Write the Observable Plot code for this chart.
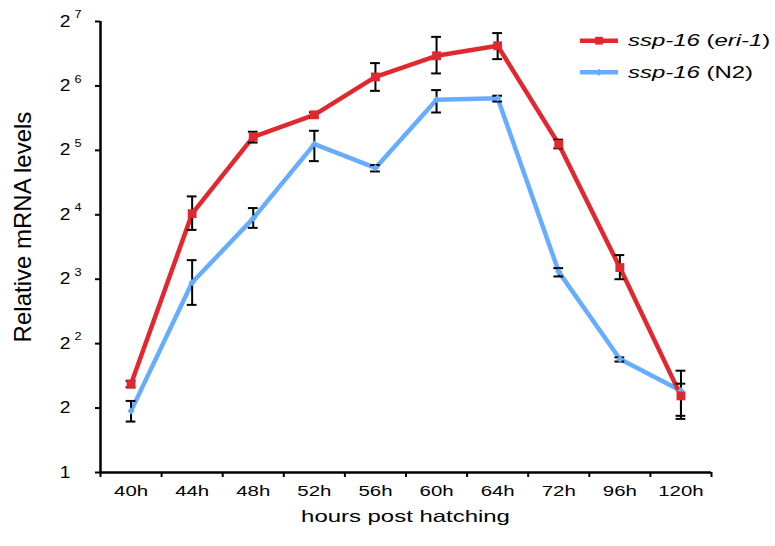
<!DOCTYPE html>
<html>
<head>
<meta charset="utf-8">
<script src="https://cdn.jsdelivr.net/npm/d3@7"></script>
<script src="https://cdn.jsdelivr.net/npm/@observablehq/plot@0.6"></script>
<style>
  body { margin: 0; background: #fff; }
  #chart svg { display: block; font-family: "Liberation Sans", Arial, sans-serif; }
</style>
</head>
<body>
<div id="chart"></div>
<script>
// ---- data ----
const categories = ["40h", "44h", "48h", "52h", "56h", "60h", "64h", "72h", "96h", "120h"];

const eriMean = [2.59, 16.2, 37.0, 46.9, 70.5, 88.5, 98.6, 34.2, 9.07, 2.28];
const eriLow  = [2.50, 13.6, 34.8, 45.6, 60.7, 73.2, 85.4, 32.7, 8.0, 1.78];
const eriHigh = [2.68, 19.5, 39.1, 48.2, 81.8, 108.5, 113.0, 35.9, 10.37, 2.99];

const n2Mean = [1.94, 7.72, 15.4, 34.2, 26.5, 55.1, 56.1, 8.66, 3.39, 2.41];
const n2Low  = [1.73, 6.07, 13.9, 28.5, 25.5, 48.1, 54.1, 8.24, 3.30, 1.84];
const n2High = [2.16, 9.82, 17.2, 39.5, 27.3, 61.2, 57.6, 9.01, 3.45, 2.60];

const yTicks = [1, 2, 4, 8, 16, 32, 64, 128];
const yTickBase = ["1", "2", "2", "2", "2", "2", "2", "2"];
const yTickExp  = ["", "", "2", "3", "4", "5", "6", "7"];

const xTitle = "hours post hatching";
const yTitle = "Relative mRNA levels";

// ---- style ----
const RED = "#e2282f";
const BLUE = "#66adff";
const CAP = 0.08; // half cap width in band units

const rows = (mean, lo, hi) => categories.map((c, i) => ({cat: c, pos: i + 0.5, mean: mean[i], lo: lo[i], hi: hi[i]}));
const eri = rows(eriMean, eriLow, eriHigh);
const n2 = rows(n2Mean, n2Low, n2High);

const errMarks = (data) => [
  Plot.ruleX(data, {x: "pos", y1: "lo", y2: "hi", stroke: "#000", strokeWidth: 2}),
  Plot.ruleY(data, {y: "hi", x1: d => d.pos - CAP, x2: d => d.pos + CAP, stroke: "#000", strokeWidth: 2}),
  Plot.ruleY(data, {y: "lo", x1: d => d.pos - CAP, x2: d => d.pos + CAP, stroke: "#000", strokeWidth: 2})
];

const chart = Plot.plot({
  width: 775,
  height: 546,
  marginLeft: 100,
  marginRight: 64,
  marginTop: 21,
  marginBottom: 74,
  x: {domain: [0, categories.length], axis: null, label: null},
  y: {type: "log", base: 2, domain: [1, 128], axis: null, label: null},
  style: {background: "#fff", color: "#000", fontFamily: "Liberation Sans, Arial, sans-serif"},
  marks: [
    // axes
    Plot.axisY(yTicks, {anchor: "left", tickSize: 5, tickFormat: () => "", strokeWidth: 2, label: null}),
    Plot.axisX(d3.range(categories.length + 1), {anchor: "bottom", tickSize: 5, tickFormat: () => "", strokeWidth: 2, label: null}),
    Plot.ruleX([0], {y1: 1, y2: 128, stroke: "#000", strokeWidth: 2.5}),
    Plot.ruleY([1], {x1: 0, x2: categories.length, stroke: "#000", strokeWidth: 2.5}),
    Plot.text(yTicks, {x: 0, y: d => d, text: (d, i) => yTickBase[i], textAnchor: "end", lineAnchor: "middle", dx: -30, fontSize: 16, fill: "#000", className: "ybase"}),
    Plot.text(yTicks.filter((d, i) => yTickExp[i] !== ""), {x: 0, y: d => d, text: d => yTickExp[yTicks.indexOf(d)], textAnchor: "start", lineAnchor: "middle", dx: -26, dy: -7, fontSize: 11.5, fill: "#000", className: "yexp"}),
    Plot.text(categories, {x: (d, i) => i + 0.5, frameAnchor: "bottom", text: d => d, textAnchor: "middle", lineAnchor: "middle", dy: 19, fontSize: 15, fill: "#000", className: "xlabels"}),
    // data
    Plot.line(n2, {x: "pos", y: "mean", stroke: BLUE, strokeWidth: 4.5}),
    Plot.line(eri, {x: "pos", y: "mean", stroke: RED, strokeWidth: 4.5}),
    ...errMarks(n2),
    ...errMarks(eri),
    Plot.dot(n2, {x: "pos", y: "mean", symbol: "diamond2", r: 3.3, fill: BLUE, stroke: null}),
    Plot.dot(eri, {x: "pos", y: "mean", symbol: "square", r: 5, fill: RED, stroke: null})
  ]
});

document.getElementById("chart").appendChild(chart);
const svg = d3.select(chart);

function stretch(sel, k) {
  sel.each(function () {
    const L = this.getComputedTextLength();
    if (L > 0) {
      this.setAttribute("textLength", L * k);
      this.setAttribute("lengthAdjust", "spacingAndGlyphs");
    }
  });
}
// the three Plot text marks, in the order they were declared
const textGroups = svg.selectAll('g[aria-label="text"]').nodes();
const groupTexts = (i) => d3.select(textGroups[i]).selectAll("text");

// axis titles
const xt = svg.append("text")
  .attr("x", 405.5).attr("y", 522)
  .attr("text-anchor", "middle")
  .attr("font-size", 16.5)
  .attr("fill", "#000")
  .text(xTitle);

svg.append("text")
  .attr("transform", "translate(31,227) rotate(-90)")
  .attr("text-anchor", "middle")
  .attr("font-size", 24)
  .attr("fill", "#000")
  .text(yTitle);

// legend
const legend = svg.append("g").attr("aria-label", "legend");
const legendItems = [
  {color: RED, symbol: d3.symbolSquare, size: 60, y: 40.7, parts: [["ssp-16", true], [" (", false], ["eri-1", true], [")", false]]},
  {color: BLUE, symbol: d3.symbolDiamond2, size: 34, y: 72.3, parts: [["ssp-16", true], [" (N2)", false]]}
];
const legendTexts = [];
legendItems.forEach((it) => {
  legend.append("line").attr("x1", 580).attr("x2", 618).attr("y1", it.y).attr("y2", it.y)
    .attr("stroke", it.color).attr("stroke-width", 4.5);
  legend.append("path").attr("d", d3.symbol(it.symbol, it.size)())
    .attr("transform", `translate(599,${it.y})`).attr("fill", it.color);
  const t = legend.append("text").attr("x", 628).attr("y", it.y).attr("dy", "0.35em")
    .attr("text-anchor", "start")
    .attr("font-size", 16.5).attr("fill", "#000");
  it.parts.forEach(([s, ital]) => {
    t.append("tspan").attr("font-style", ital ? "italic" : "normal").text(s);
  });
  legendTexts.push(t.node());
});

// the reference's horizontal text is drawn wide
if (textGroups.length >= 3) {
  stretch(groupTexts(0), 1.2);
  stretch(groupTexts(1), 1.1);
  stretch(groupTexts(2), 1.36);
}
stretch(xt, 1.45);
stretch(d3.selectAll(legendTexts), 1.45);
</script>
</body>
</html>
